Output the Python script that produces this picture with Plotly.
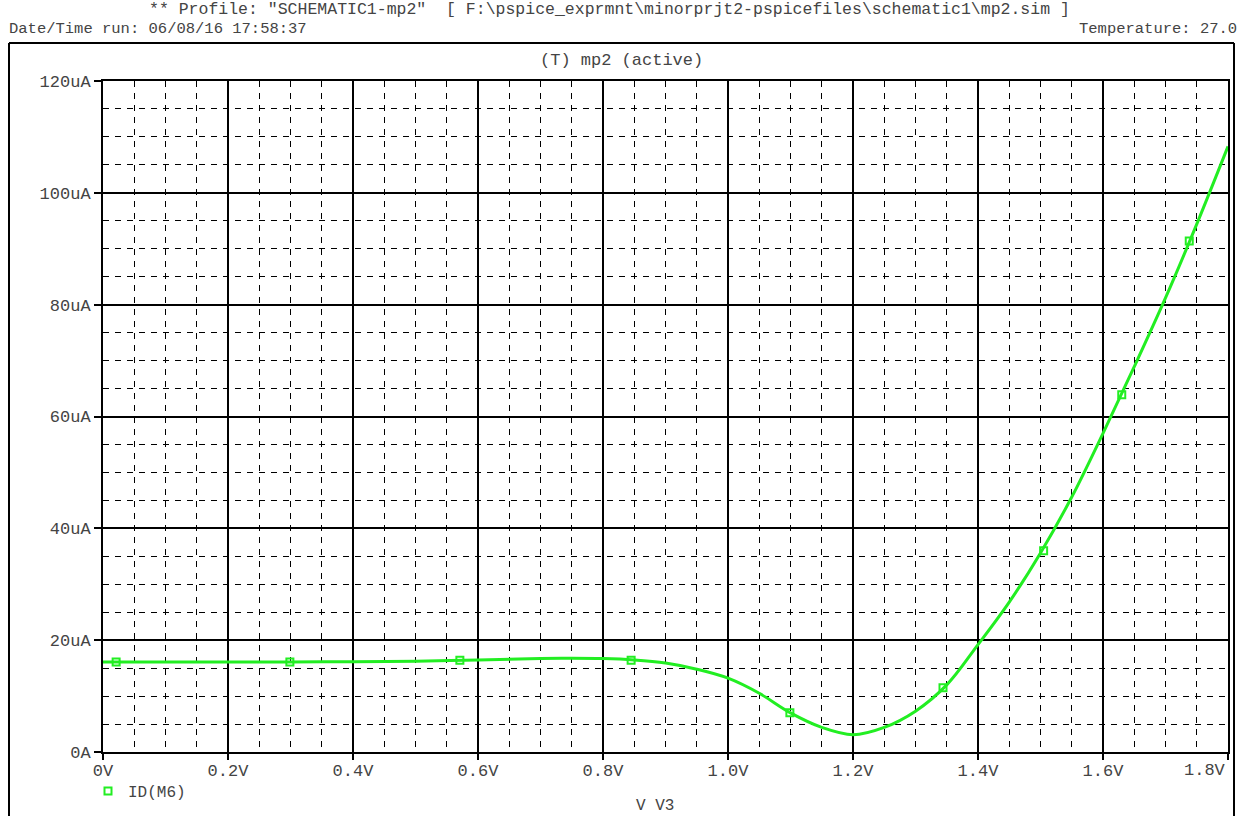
import plotly.graph_objects as go

# ---- data ----
voltage = [0.0, 0.1, 0.2, 0.3, 0.4, 0.5, 0.6, 0.7, 0.75, 0.8, 0.85, 0.9, 0.95,
           1.0, 1.05, 1.1, 1.15, 1.2, 1.25, 1.3, 1.35, 1.4, 1.45, 1.5, 1.55,
           1.6, 1.65, 1.7, 1.75, 1.8]
current_uA = [16.1, 16.1, 16.1, 16.1, 16.15, 16.25, 16.45, 16.7, 16.75, 16.7,
              16.45, 15.9, 14.8, 13.2, 10.5, 7.0, 4.4, 3.1, 4.4, 7.3, 12.0,
              19.2, 26.8, 35.6, 45.6, 57.0, 68.9, 81.2, 94.4, 108.3]
marker_v = [0.021, 0.299, 0.571, 0.845, 1.099, 1.344, 1.505, 1.630, 1.738]
marker_i = [16.1, 16.1, 16.4, 16.4, 7.0, 11.5, 36.0, 63.9, 91.4]

x_tickvals = [0.0, 0.2, 0.4, 0.6, 0.8, 1.0, 1.2, 1.4, 1.6, 1.8]
x_ticktext = ["0V", "0.2V", "0.4V", "0.6V", "0.8V", "1.0V", "1.2V", "1.4V", "1.6V", "1.8V"]
y_tickvals = [0, 20, 40, 60, 80, 100, 120]
y_ticktext = ["0A", "20uA", "40uA", "60uA", "80uA", "100uA", "120uA"]

W, H = 1247, 816
L, R, T, B = 103, 1228, 81, 752
MONO = "Liberation Mono"
TXT = "#444444"
GREEN = "#22ee22"


def px(xp):
    return (xp - L) / (R - L)


def py(yp):
    return (B - yp) / (B - T)


fig = go.Figure()
fig.add_trace(go.Scatter(x=voltage, y=current_uA, mode="lines",
                         line=dict(color=GREEN, width=3, shape="spline", smoothing=1.0),
                         showlegend=False, hoverinfo="skip"))
fig.add_trace(go.Scatter(x=marker_v, y=marker_i, mode="markers", name="ID(M6)",
                         marker=dict(symbol="square-open", size=7, color=GREEN,
                                     line=dict(width=2, color=GREEN)),
                         showlegend=True))

axis_common = dict(showline=True, linecolor="black", linewidth=2, mirror=True,
                   showgrid=True, gridcolor="black", gridwidth=1.6, zeroline=False,
                   ticks="outside", tickcolor="black", tickwidth=1.5,
                   automargin=False,
                   tickfont=dict(family=MONO, size=17, color=TXT))

# last x tick label sits right-aligned at the axis end (as in the reference)
x_ticktext_axis = x_ticktext[:-1] + [""]

fig.update_xaxes(range=[0, 1.8], tickvals=x_tickvals, ticktext=x_ticktext_axis,
                 ticklen=6, ticklabelstandoff=-4,
                 minor=dict(dtick=0.05, tick0=0, showgrid=True, griddash="6px,6px",
                            gridcolor="black", gridwidth=1.3, ticks=""),
                 **axis_common)
fig.update_yaxes(range=[0, 120], tickvals=y_tickvals, ticktext=y_ticktext,
                 ticklen=7,
                 minor=dict(dtick=5, tick0=0, showgrid=True, griddash="6px,6px",
                            gridcolor="black", gridwidth=1.3, ticks=""),
                 **axis_common)

annotations = [
    dict(x=px(147), y=py(10), xanchor="left", yanchor="middle", size=16.5,
         text='** Profile: "SCHEMATIC1-mp2"  [ F:\\pspice_exprmnt\\minorprjt2-pspicefiles\\schematic1\\mp2.sim ]'),
    dict(x=px(7), y=py(28.5), xanchor="left", yanchor="middle", size=15.5,
         text="Date/Time run: 06/08/16 17:58:37"),
    dict(x=px(1239), y=py(28.5), xanchor="right", yanchor="middle", size=15.5,
         text="Temperature: 27.0"),
    dict(x=px(621), y=py(60), xanchor="center", yanchor="middle", size=17,
         text="(T) mp2 (active)"),
    dict(x=px(655), y=py(806), xanchor="center", yanchor="middle", size=16,
         text="V V3"),
    dict(x=x_tickvals[-1], xref="x", y=py(770), xanchor="right", yanchor="middle",
         size=17, text=x_ticktext[-1]),
]
for a in annotations:
    s = a.pop("size")
    a.setdefault("xref", "paper")
    a.update(yref="paper", showarrow=False,
             font=dict(family=MONO, size=s, color=TXT))

shapes = [
    dict(type="line", xref="paper", yref="paper", x0=px(9), x1=px(1234),
         y0=py(43), y1=py(43), line=dict(color="black", width=2)),
    dict(type="line", xref="paper", yref="paper", x0=px(9), x1=px(9),
         y0=py(43), y1=py(830), line=dict(color="black", width=2)),
    dict(type="line", xref="paper", yref="paper", x0=px(1234), x1=px(1234),
         y0=py(43), y1=py(830), line=dict(color="black", width=2)),
]

fig.update_layout(
    width=W, height=H,
    margin=dict(l=L, r=W - R, t=T, b=H - B, pad=0, autoexpand=False),
    paper_bgcolor="white", plot_bgcolor="white",
    annotations=annotations, shapes=shapes,
    legend=dict(x=px(88), y=py(774), xanchor="left", yanchor="top",
                bgcolor="rgba(0,0,0,0)",
                font=dict(family=MONO, size=16, color=TXT)),
    font=dict(family=MONO, color=TXT),
)

fig.write_html("out.html", config={"displayModeBar": False},
               post_script="document.body.style.margin='0px';"
                           "document.body.style.overflow='hidden';")
